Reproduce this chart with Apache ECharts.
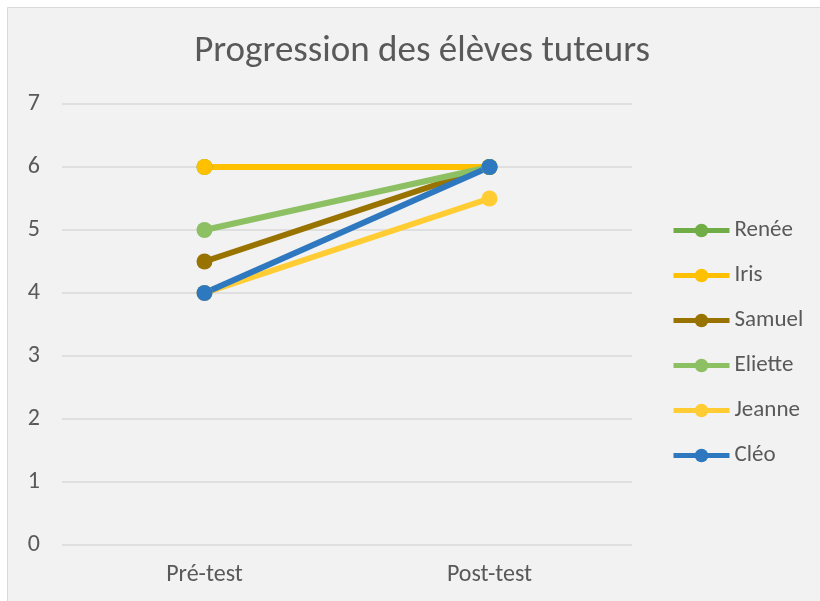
<!DOCTYPE html>
<html>
<head>
<meta charset="utf-8">
<script src="https://cdn.jsdelivr.net/npm/echarts@6/dist/echarts.min.js"></script>
<style>
  html, body { margin: 0; padding: 0; background: #ffffff; }
  #chart { width: 820px; height: 601px; }
</style>
</head>
<body>
<div id="chart"></div>
<script>
// Scores before and after the tutoring sessions
const categories = ['Pré-test', 'Post-test'];
const students = ['Renée', 'Iris', 'Samuel', 'Eliette', 'Jeanne', 'Cléo'];
const renee = [6, 6];
const iris = [6, 6];
const samuel = [4.5, 6];
const eliette = [5, 6];
const jeanne = [4, 5.5];
const cleo = [4, 6];
const yTicks = [0, 1, 2, 3, 4, 5, 6, 7];

const colors = ['#70AD47', '#FFC000', '#997300', '#8CC063', '#FFCD33', '#2E78C0'];
const values = [renee, iris, samuel, eliette, jeanne, cleo];
const font = 'Carlito, Lato, "Open Sans", sans-serif';

const chart = echarts.init(document.getElementById('chart'));
chart.setOption({
  backgroundColor: '#ffffff',
  animation: false,
  graphic: [{
    type: 'rect',
    left: 7, top: 7,
    shape: { width: 830, height: 610 },
    style: { fill: '#F2F2F2', stroke: '#D9D9D9', lineWidth: 1 },
    z: -10
  }],
  title: {
    text: 'Progression des élèves tuteurs',
    left: 417, top: 28, textAlign: 'center',
    textStyle: { fontFamily: font, fontSize: 37, fontWeight: 'normal', color: '#595959' }
  },
  legend: {
    orient: 'vertical',
    left: 671, top: 219, padding: 0,
    itemWidth: 56, itemHeight: 17, itemGap: 22,
    lineStyle: { width: 5 },
    textStyle: { fontFamily: font, fontSize: 23, color: '#595959' },
    data: students
  },
  grid: { left: 62, right: 188, top: 104, bottom: 56 },
  xAxis: {
    type: 'category',
    data: categories,
    boundaryGap: true,
    axisLine: { show: false },
    axisTick: { show: false },
    axisLabel: { fontFamily: font, fontSize: 24, color: '#595959', margin: 18 }
  },
  yAxis: {
    type: 'value',
    min: yTicks[0], max: yTicks[yTicks.length - 1], interval: 1,
    axisLine: { show: false },
    axisTick: { show: false },
    axisLabel: { fontFamily: font, fontSize: 24, color: '#595959', margin: 22 },
    splitLine: { lineStyle: { color: '#D9D9D9', width: 1.5 } }
  },
  series: students.map((name, i) => ({
    name: name,
    type: 'line',
    data: values[i],
    color: colors[i],
    symbol: 'circle',
    symbolSize: 16,
    lineStyle: { width: 6, color: colors[i] },
    itemStyle: { color: colors[i] }
  }))
});
</script>
</body>
</html>
